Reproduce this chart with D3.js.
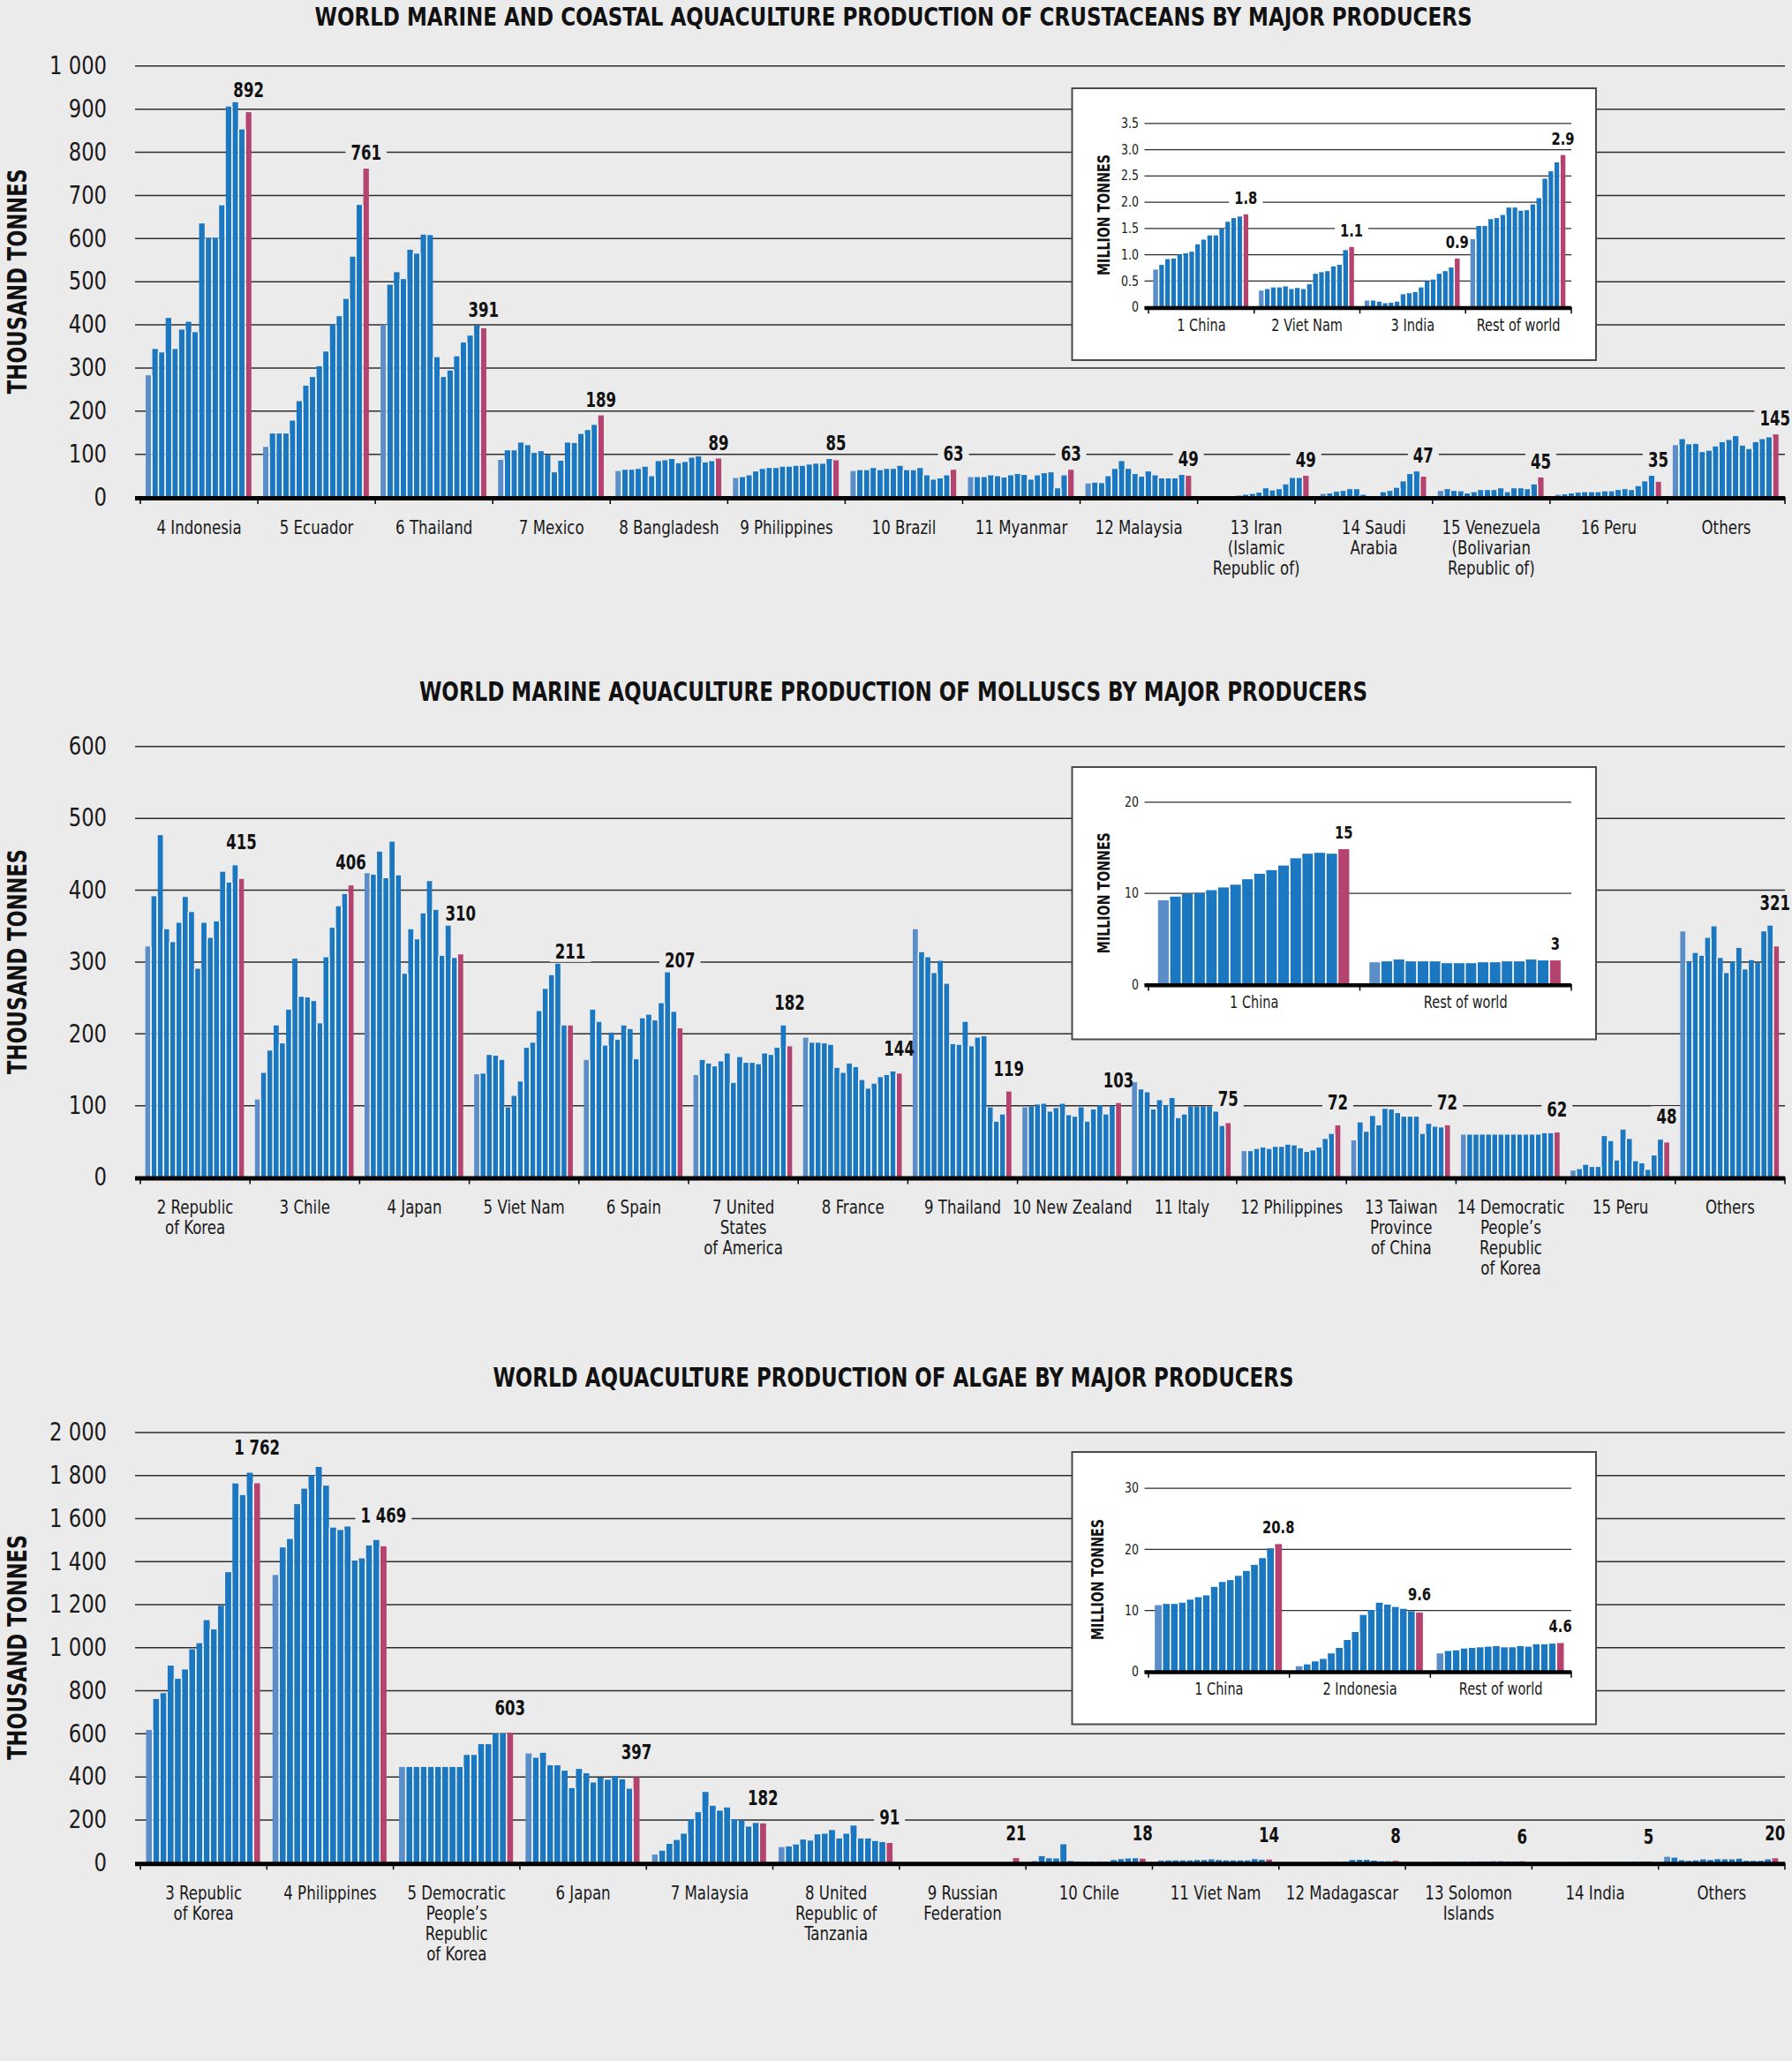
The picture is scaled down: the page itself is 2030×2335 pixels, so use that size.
<!DOCTYPE html>
<html>
<head>
<meta charset="utf-8">
<script src="https://cdn.jsdelivr.net/npm/d3@7"></script>
<style>
  html, body { margin: 0; padding: 0; background: #ebebec; }
  svg { display: block; }
</style>
</head>
<body>
<svg id="chart" width="2030" height="2335"></svg>
<script>
// ================= DATA =================
// 16 yearly values per producer (first bar lighter, last bar highlighted)

// --- Crustaceans (thousand tonnes) ---
const crustCategories = ["4 Indonesia", "5 Ecuador", "6 Thailand", "7 Mexico", "8 Bangladesh", "9 Philippines",
  "10 Brazil", "11 Myanmar", "12 Malaysia", "13 Iran\n(Islamic\nRepublic of)", "14 Saudi\nArabia",
  "15 Venezuela\n(Bolivarian\nRepublic of)", "16 Peru", "Others"];
const crustValues = [
  [282, 343, 335, 415, 343, 388, 406, 382, 634, 600, 600, 676, 905, 915, 852, 892],
  [116, 147, 147, 147, 177, 222, 258, 278, 303, 337, 400, 419, 459, 557, 677, 761],
  [399, 492, 521, 505, 573, 564, 608, 607, 324, 278, 293, 326, 358, 374, 397, 391],
  [86, 108, 108, 126, 120, 102, 106, 98, 57, 84, 126, 125, 146, 155, 167, 189],
  [60, 63, 63, 65, 70, 48, 83, 85, 88, 78, 81, 91, 94, 80, 83, 89],
  [44, 46, 50, 59, 65, 67, 67, 70, 70, 72, 72, 75, 77, 77, 88, 85],
  [60, 62, 62, 67, 62, 65, 65, 72, 62, 62, 67, 50, 40, 43, 50, 63],
  [46, 46, 46, 50, 48, 45, 50, 53, 51, 40, 50, 55, 57, 20, 50, 63],
  [31, 33, 32, 48, 65, 83, 65, 53, 47, 59, 50, 43, 43, 43, 51, 49],
  [1, 0, 0, 0, 1, 3, 5, 7, 10, 20, 15, 18, 29, 44, 44, 49],
  [7, 8, 12, 14, 18, 18, 5, 2, 2, 11, 14, 21, 36, 53, 59, 47],
  [14, 18, 14, 13, 8, 11, 16, 16, 16, 20, 11, 20, 20, 18, 29, 45],
  [5, 6, 8, 10, 11, 11, 11, 13, 13, 16, 18, 16, 25, 36, 49, 35],
  [120, 134, 122, 123, 104, 107, 117, 127, 132, 141, 119, 111, 127, 134, 138, 145]
];
const crustTicks = [0, 100, 200, 300, 400, 500, 600, 700, 800, 900, 1000];

// crustaceans inset (million tonnes)
const crustInsetCategories = ["1 China", "2 Viet Nam", "3 India", "Rest of world"];
const crustInsetValues = [
  [0.71, 0.80, 0.91, 0.92, 1.00, 1.02, 1.05, 1.19, 1.28, 1.36, 1.36, 1.49, 1.62, 1.69, 1.72, 1.76],
  [0.31, 0.34, 0.37, 0.37, 0.39, 0.34, 0.36, 0.34, 0.43, 0.63, 0.66, 0.68, 0.77, 0.80, 1.08, 1.14],
  [0.12, 0.12, 0.10, 0.07, 0.08, 0.10, 0.24, 0.26, 0.28, 0.37, 0.49, 0.52, 0.63, 0.68, 0.75, 0.92],
  [1.29, 1.54, 1.54, 1.67, 1.69, 1.75, 1.89, 1.89, 1.83, 1.84, 1.95, 2.07, 2.44, 2.58, 2.75, 2.89]
];
const crustInsetTicks = [0, 0.5, 1, 1.5, 2, 2.5, 3, 3.5];

// --- Molluscs (thousand tonnes) ---
const molluscCategories = ["2 Republic\nof Korea", "3 Chile", "4 Japan", "5 Viet Nam", "6 Spain",
  "7 United\nStates\nof America", "8 France", "9 Thailand", "10 New Zealand", "11 Italy", "12 Philippines",
  "13 Taiwan\nProvince\nof China", "14 Democratic\nPeople\u2019s\nRepublic\nof Korea", "15 Peru", "Others"];
const molluscValues = [
  [321, 391, 476, 345, 327, 354, 390, 369, 290, 354, 333, 356, 425, 410, 434, 415],
  [108, 145, 176, 211, 186, 233, 304, 251, 250, 245, 214, 306, 347, 377, 394, 406],
  [423, 421, 453, 416, 467, 420, 283, 345, 331, 367, 412, 372, 308, 350, 305, 310],
  [143, 144, 170, 169, 163, 97, 113, 133, 180, 187, 231, 262, 281, 297, 211, 211],
  [163, 233, 216, 183, 201, 191, 211, 206, 164, 221, 226, 218, 242, 285, 230, 207],
  [142, 163, 158, 154, 161, 172, 131, 167, 159, 159, 157, 172, 170, 180, 211, 182],
  [194, 187, 187, 186, 184, 152, 145, 158, 153, 135, 123, 130, 139, 142, 147, 144],
  [345, 313, 306, 284, 301, 269, 185, 184, 216, 182, 194, 196, 97, 77, 87, 119],
  [97, 98, 101, 102, 91, 96, 102, 86, 84, 97, 77, 94, 100, 87, 99, 103],
  [132, 122, 118, 94, 107, 100, 110, 82, 87, 98, 98, 98, 98, 91, 71, 75],
  [36, 36, 39, 41, 39, 42, 42, 45, 44, 40, 35, 37, 41, 53, 60, 72],
  [51, 76, 63, 85, 72, 95, 94, 89, 84, 84, 84, 60, 74, 70, 69, 72],
  [59, 59, 59, 59, 59, 59, 59, 59, 59, 59, 59, 59, 59, 61, 61, 62],
  [9, 11, 17, 14, 14, 57, 50, 23, 66, 53, 22, 19, 10, 30, 52, 48],
  [342, 300, 312, 308, 333, 349, 305, 284, 300, 319, 289, 302, 298, 342, 350, 321]
];
const molluscTicks = [0, 100, 200, 300, 400, 500, 600];

// molluscs inset (million tonnes)
const molluscInsetCategories = ["1 China", "Rest of world"];
const molluscInsetValues = [
  [9.2, 9.6, 9.9, 10.0, 10.3, 10.6, 10.9, 11.5, 12.1, 12.5, 13.0, 13.8, 14.3, 14.4, 14.3, 14.8],
  [2.4, 2.5, 2.7, 2.5, 2.5, 2.5, 2.3, 2.3, 2.3, 2.4, 2.4, 2.5, 2.5, 2.7, 2.6, 2.6]
];
const molluscInsetTicks = [0, 10, 20];

// --- Algae (thousand tonnes) ---
const algaeCategories = ["3 Republic\nof Korea", "4 Philippines", "5 Democratic\nPeople\u2019s\nRepublic\nof Korea",
  "6 Japan", "7 Malaysia", "8 United\nRepublic of\nTanzania", "9 Russian\nFederation", "10 Chile", "11 Viet Nam",
  "12 Madagascar", "13 Solomon\nIslands", "14 India", "Others"];
const algaeValues = [
  [616, 760, 787, 915, 854, 897, 991, 1019, 1126, 1083, 1193, 1349, 1761, 1707, 1811, 1762],
  [1336, 1464, 1503, 1665, 1737, 1799, 1838, 1751, 1556, 1545, 1561, 1403, 1413, 1473, 1498, 1469],
  [444, 444, 444, 444, 444, 444, 444, 444, 444, 500, 500, 550, 550, 600, 600, 603],
  [507, 487, 510, 452, 452, 427, 346, 435, 415, 372, 395, 385, 402, 387, 343, 397],
  [37, 55, 87, 105, 134, 201, 234, 328, 264, 241, 256, 201, 196, 167, 184, 182],
  [72, 75, 84, 107, 102, 131, 134, 151, 112, 134, 172, 112, 112, 100, 95, 91],
  [0, 0, 0, 0, 0, 0, 0, 0, 0, 0, 0, 0, 0, 0, 0, 21],
  [7, 30, 20, 19, 85, 7, 5, 4, 4, 4, 4, 12, 16, 19, 20, 18],
  [10, 10, 10, 10, 10, 12, 12, 15, 12, 10, 10, 10, 10, 16, 13, 14],
  [1, 1, 1, 1, 1, 2, 2, 3, 4, 12, 13, 13, 9, 6, 6, 8],
  [1, 1, 1, 2, 2, 3, 3, 4, 4, 5, 5, 6, 6, 5, 5, 6],
  [1, 1, 1, 1, 1, 2, 2, 2, 2, 3, 3, 3, 4, 4, 4, 5],
  [27, 23, 11, 8, 10, 15, 12, 16, 15, 15, 18, 8, 8, 8, 15, 20]
];
const algaeTicks = [0, 200, 400, 600, 800, 1000, 1200, 1400, 1600, 1800, 2000];

// algae inset (million tonnes)
const algaeInsetCategories = ["1 China", "2 Indonesia", "Rest of world"];
const algaeInsetValues = [
  [10.8, 11.0, 11.0, 11.2, 11.7, 12.1, 12.4, 13.8, 14.6, 14.9, 15.6, 16.4, 17.4, 18.5, 20.1, 20.8],
  [0.8, 1.1, 1.6, 2.0, 2.9, 3.8, 5.1, 6.4, 9.2, 10.0, 11.2, 10.9, 10.5, 10.2, 9.8, 9.6],
  [2.9, 3.3, 3.4, 3.7, 3.8, 3.9, 4.0, 4.1, 3.9, 3.9, 4.1, 4.0, 4.4, 4.4, 4.5, 4.6]
];
const algaeInsetTicks = [0, 10, 20, 30];

// ================= STYLE =================
const FONT = "'Liberation Sans Narrow','Arial Narrow','DejaVu Sans Condensed','Roboto',sans-serif";
const BG = "#ebebec";
const BLUE = "#1a77c0", LIGHT = "#5b8dc9", RED = "#b5436f";
const fmtSpace = v => d3.format(",")(v).replace(/,/g, " ");
const PAGE_W = 2030;

const svg = d3.select("#chart");
svg.append("rect").attr("width", 2030).attr("height", 2335).attr("fill", BG);

// horizontally condense a text element around its anchor x
function condense(sel, k) {
  sel.each(function () {
    const t = d3.select(this);
    const x0 = +t.attr("x") || 0;
    t.attr("transform", `translate(${x0},0) scale(${k},1) translate(${-x0},0)`);
  });
}

function titleText(t, cx, y, len, fs) {
  svg.append("text").attr("x", cx).attr("y", y).attr("text-anchor", "middle")
    .attr("font-family", FONT).attr("font-weight", "bold").attr("font-size", fs)
    .attr("textLength", len).attr("lengthAdjust", "spacingAndGlyphs").attr("fill", "#111").text(t);
}

function panel(cfg) {
  const g = svg.append("g");
  const nG = cfg.categories.length;
  const x = d3.scaleBand().domain(d3.range(nG)).range([cfg.x0, cfg.x1]).padding(0);
  const bw = x.bandwidth();
  const pad = bw * 0.045;
  const n = cfg.values[0].length;
  const xi = d3.scaleBand().domain(d3.range(n)).range([pad, bw - pad]).padding(0);
  const step = xi.bandwidth();
  const gap = cfg.gap;
  const y = d3.scaleLinear().domain([0, cfg.yMax]).range([cfg.y0, cfg.y1]);

  // grid lines + tick labels
  const axis = d3.axisLeft(y).tickValues(cfg.ticks)
    .tickSize(-(cfg.x1 - cfg.gx0)).tickPadding(cfg.gx0 - cfg.labelX).tickFormat(cfg.tickFormat);
  const ag = g.append("g").attr("transform", `translate(${cfg.gx0},0)`).call(axis);
  ag.select(".domain").remove();
  ag.selectAll(".tick line").attr("stroke", "#2e2e2e").attr("stroke-width", cfg.gridW);
  ag.selectAll(".tick text").attr("font-family", FONT).attr("font-size", cfg.tickFs).attr("fill", "#1a1a1a")
    .call(condense, cfg.tickK);

  const gBg = g.append("g");
  const gBars = g.append("g");
  const gAxis = g.append("g");
  const gText = g.append("g");

  // value labels (measure first, backgrounds go behind bars)
  const labels = cfg.values.map((vals, gi) => {
    const top2 = d3.max(vals.slice(n - 2));
    const top3 = d3.max(vals.slice(n - 3));
    return {
      text: cfg.valueFormat(vals[n - 1]),
      x: x(gi) + xi(n - 1) + (step - gap) / 2,
      y: Math.min(y(top2) - cfg.labelGap, y(top3) - 6)
    };
  });
  const lt = gText.selectAll("text.val").data(labels).join("text").attr("class", "val")
    .attr("x", d => d.x).attr("y", d => d.y).attr("text-anchor", "middle")
    .attr("font-family", FONT).attr("font-weight", "bold").attr("font-size", cfg.valFs)
    .attr("fill", "#111").text(d => d.text);
  lt.each(function (d) {
    const t = d3.select(this);
    const b = this.getBBox();
    const w = b.width * cfg.valK;
    let cx = d.x;
    if (cx + w / 2 > PAGE_W - 2) cx = PAGE_W - 2 - w / 2;
    t.attr("x", cx);
    gBg.append("rect").attr("x", cx - w / 2 - 6).attr("y", b.y + 1).attr("width", w + 12)
      .attr("height", b.height - 2).attr("fill", cfg.bg);
  });
  lt.call(condense, cfg.valK);

  // bars
  const groups = gBars.selectAll("g.grp").data(cfg.values).join("g").attr("class", "grp")
    .attr("transform", (d, i) => `translate(${x(i)},0)`);
  groups.selectAll("rect.bar").data(d => d).join("rect").attr("class", "bar")
    .attr("x", (d, i) => xi(i)).attr("width", step - gap)
    .attr("y", d => y(d)).attr("height", d => cfg.y0 - y(d))
    .attr("fill", (d, i) => i === 0 ? LIGHT : (i === n - 1 ? RED : BLUE));
  groups.selectAll("rect.gap").data(d => d.slice(0, -1).map((v, i) => Math.min(v, d[i + 1]))).join("rect")
    .attr("class", "gap").attr("x", (d, i) => xi(i) + step - gap).attr("width", gap)
    .attr("y", d => y(d)).attr("height", d => cfg.y0 - y(d)).attr("fill", "#fff");

  // zero line and group boundary ticks
  gAxis.append("line").attr("x1", cfg.gx0).attr("x2", cfg.x1)
    .attr("y1", cfg.y0 + cfg.axisW / 2 - 1).attr("y2", cfg.y0 + cfg.axisW / 2 - 1)
    .attr("stroke", "#000").attr("stroke-width", cfg.axisW);
  const bounds = d3.range(nG).map(i => x(i)).concat([cfg.x1]);
  gAxis.selectAll("line.bt").data(bounds).join("line").attr("class", "bt")
    .attr("x1", d => d).attr("x2", d => d).attr("y1", cfg.y0).attr("y2", cfg.y0 + cfg.axisW + cfg.tickLen)
    .attr("stroke", "#000").attr("stroke-width", 1.5);

  // category labels
  gText.selectAll("text.cat").data(cfg.categories).join("text").attr("class", "cat")
    .attr("x", (c, i) => x(i) + bw / 2)
    .attr("y", cfg.y0 + cfg.catDy).attr("text-anchor", "middle")
    .attr("font-family", FONT).attr("font-size", cfg.catFs).attr("fill", "#1a1a1a")
    .each(function (c, i) {
      const t = d3.select(this);
      const cx = x(i) + bw / 2;
      c.split("\n").forEach((line, k) => {
        t.append("tspan").attr("x", cx).attr("dy", k === 0 ? 0 : cfg.catLh).text(line);
      });
    })
    .call(condense, cfg.catK);

  // y axis title
  g.append("text")
    .attr("transform", `translate(${cfg.titleX},${(cfg.y0 + cfg.y1) / 2}) rotate(-90)`)
    .attr("text-anchor", "middle").attr("font-family", FONT).attr("font-weight", "bold")
    .attr("font-size", cfg.titleFs).attr("textLength", cfg.titleLen).attr("lengthAdjust", "spacingAndGlyphs")
    .attr("fill", "#111").text(cfg.yTitle);
}

const mainBase = {
  x0: 159, x1: 2022, gx0: 153, labelX: 121, gap: 1.3, gridW: 1.5, axisW: 5, tickLen: 3,
  tickFs: 29, catFs: 22, catLh: 23, catDy: 42, valFs: 23, bg: BG,
  tickK: 0.87, catK: 0.84, valK: 0.8,
  titleX: 30, titleFs: 31, titleLen: 255, yTitle: "THOUSAND TONNES",
  tickFormat: fmtSpace, valueFormat: fmtSpace
};
const insetBase = {
  x0: 1301, x1: 1780, gx0: 1296.5, labelX: 1290, gap: 1.3, gridW: 1.3, axisW: 4.5, tickLen: 3,
  tickFs: 16, catFs: 19, catLh: 20, catDy: 27, valFs: 20, bg: "#fff", labelGap: 12,
  tickK: 0.87, catK: 0.85, valK: 0.82,
  titleX: 1256.5, titleFs: 20, titleLen: 137, yTitle: "MILLION TONNES"
};

function insetBox(y, h) {
  svg.append("rect").attr("x", 1214.5).attr("y", y).attr("width", 593.5).attr("height", h)
    .attr("fill", "#fff").attr("stroke", "#4a4a4a").attr("stroke-width", 2);
}

// ---------- Chart 1: crustaceans ----------
titleText("WORLD MARINE AND COASTAL AQUACULTURE PRODUCTION OF CRUSTACEANS BY MAJOR PRODUCERS", 1012, 29, 1311, 29);
panel(Object.assign({}, mainBase, {
  categories: crustCategories, values: crustValues, ticks: crustTicks,
  yMax: 1000, y0: 563, y1: 74.3, labelGap: 10
}));
insetBox(100, 308);
panel(Object.assign({}, insetBase, {
  categories: crustInsetCategories, values: crustInsetValues, ticks: crustInsetTicks,
  yMax: 3.5, y0: 347.7, y1: 139.3,
  tickFormat: d => d === 0 ? "0" : d3.format(".1f")(d), valueFormat: d3.format(".1f")
}));

// ---------- Chart 2: molluscs ----------
titleText("WORLD MARINE AQUACULTURE PRODUCTION OF MOLLUSCS BY MAJOR PRODUCERS", 1012, 793.5, 1074, 31);
panel(Object.assign({}, mainBase, {
  categories: molluscCategories, values: molluscValues, ticks: molluscTicks,
  yMax: 600, y0: 1333.5, y1: 845.3, labelGap: 18
}));
insetBox(869, 308.5);
panel(Object.assign({}, insetBase, {
  categories: molluscInsetCategories, values: molluscInsetValues, ticks: molluscInsetTicks,
  yMax: 20, y0: 1115, y1: 908.3,
  tickFormat: d3.format("d"), valueFormat: d3.format(".0f")
}));

// ---------- Chart 3: algae ----------
titleText("WORLD AQUACULTURE PRODUCTION OF ALGAE BY MAJOR PRODUCERS", 1012, 1571, 907, 31);
panel(Object.assign({}, mainBase, {
  categories: algaeCategories, values: algaeValues, ticks: algaeTicks,
  yMax: 2000, y0: 2110.2, y1: 1622.4, labelGap: 20
}));
insetBox(1645, 308.5);
panel(Object.assign({}, insetBase, {
  categories: algaeInsetCategories, values: algaeInsetValues, ticks: algaeInsetTicks,
  yMax: 30, y0: 1893.3, y1: 1685.7, titleX: 1250,
  tickFormat: d3.format("d"), valueFormat: d3.format(".1f")
}));
</script>
</body>
</html>
